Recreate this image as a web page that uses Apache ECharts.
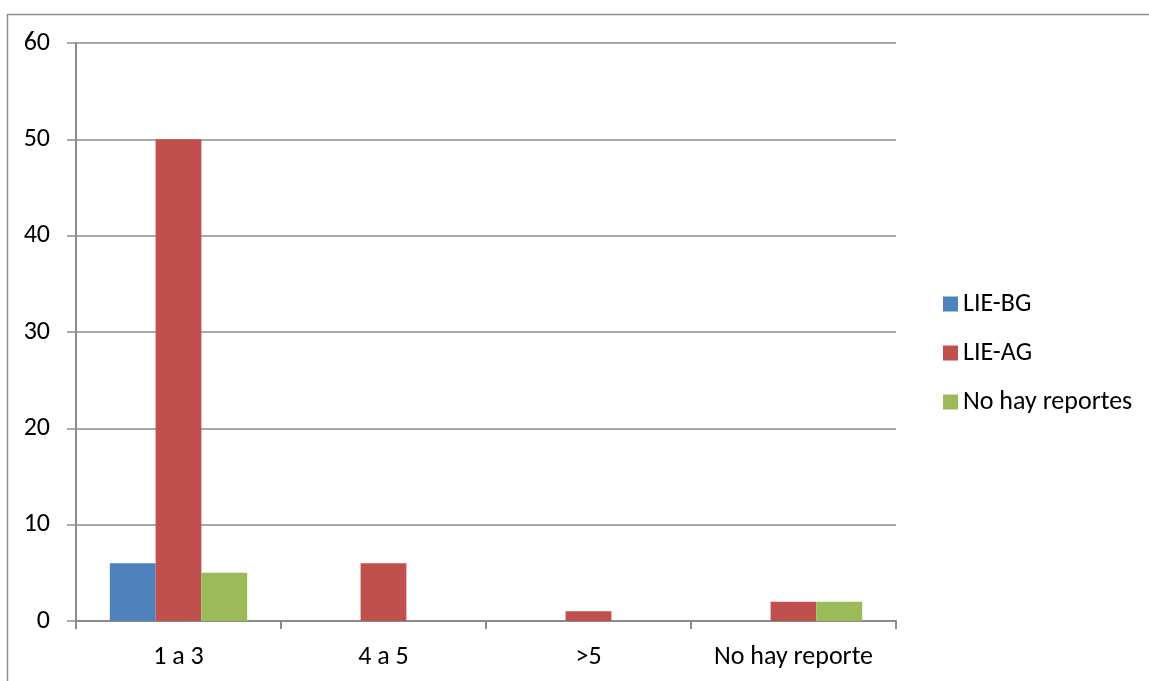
<!DOCTYPE html>
<html>
<head>
<meta charset="utf-8">
<script src="https://cdn.jsdelivr.net/npm/echarts@6/dist/echarts.min.js"></script>
<style>
  html, body { margin: 0; padding: 0; background: #fff; }
  #chart { width: 1149px; height: 681px; }
</style>
</head>
<body>
<div id="chart"></div>
<script>
// Report counts per range, by group
const categories = ['1 a 3', '4 a 5', '>5', 'No hay reporte'];
const seriesNames = ['LIE-BG', 'LIE-AG', 'No hay reportes'];
const lieBG = [6, 0, 0, 0];
const lieAG = [50, 6, 1, 2];
const noReportes = [5, 0, 0, 2];
const yTicks = [0, 10, 20, 30, 40, 50, 60];

const colors = ['#4f81bd', '#c0504d', '#9bbb59'];
const font = 'Carlito, Lato, "Open Sans", sans-serif';
const axisGray = '#8c8c8c';

const chart = echarts.init(document.getElementById('chart'), null, { renderer: 'canvas' });

const values = [lieBG, lieAG, noReportes];

chart.setOption({
  animation: false,
  backgroundColor: '#fff',
  graphic: [{
    type: 'rect',
    shape: { x: 7.5, y: 14.5, width: 1200, height: 700 },
    style: { fill: 'none', stroke: axisGray, lineWidth: 1.5 },
    silent: true
  }],
  grid: { left: 76, top: 43, right: 253, bottom: 60, containLabel: false },
  legend: {
    orient: 'vertical',
    left: 938,
    top: 286,
    itemWidth: 15,
    itemHeight: 15,
    itemGap: 23,
    icon: 'rect',
    textStyle: { fontFamily: font, fontSize: 26, color: '#000' },
    data: seriesNames
  },
  xAxis: {
    type: 'category',
    data: categories,
    boundaryGap: true,
    axisLine: { lineStyle: { color: axisGray, width: 2 } },
    axisTick: { show: true, length: 8, interval: 0, lineStyle: { color: axisGray, width: 2 }, alignWithLabel: false },
    axisLabel: { fontFamily: font, fontSize: 26, color: '#000', margin: 23, interval: 0 },
    splitLine: { show: false }
  },
  yAxis: {
    type: 'value',
    min: yTicks[0],
    max: yTicks[yTicks.length - 1],
    interval: 10,
    axisLine: { show: true, lineStyle: { color: axisGray, width: 2 } },
    axisTick: { show: true, length: 9, lineStyle: { color: axisGray, width: 1.5 } },
    axisLabel: { fontFamily: font, fontSize: 26, color: '#000', margin: 26 },
    splitLine: { show: true, lineStyle: { color: axisGray, width: 1.5 } }
  },
  series: seriesNames.map((name, i) => ({
    name,
    type: 'bar',
    data: values[i],
    barGap: '0%',
    barCategoryGap: '33%',
    itemStyle: { color: colors[i] }
  }))
});
</script>
</body>
</html>
